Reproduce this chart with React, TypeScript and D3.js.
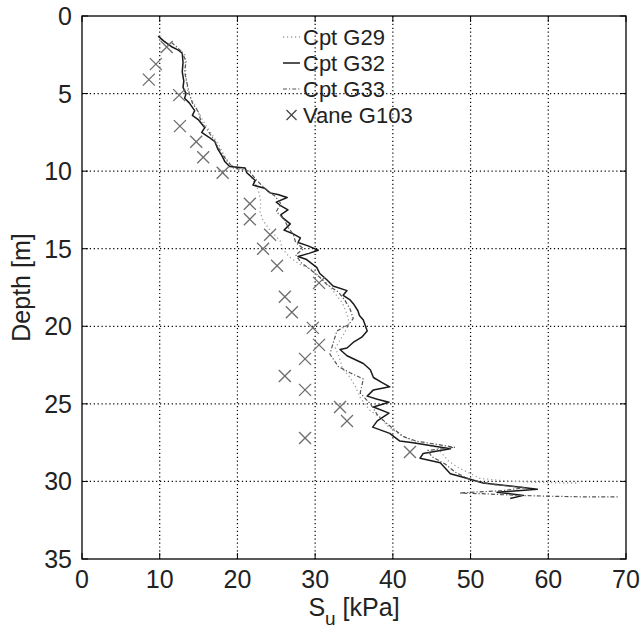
import React from "react";
import * as d3 from "d3";

// ---- Data ----
const xTicks = [0, 10, 20, 30, 40, 50, 60, 70];
const yTicks = [0, 5, 10, 15, 20, 25, 30, 35];

const legendLabels = ["Cpt G29", "Cpt G32", "Cpt G33", "Vane G103"];

// Cpt G29 (dotted) [Su kPa, depth m]
const cptG29: [number, number][] = [
  [10.2, 1.5], [11.0, 1.8], [12.0, 2.1], [13.2, 2.4], [13.3, 3.2], [13.4, 4.0], [13.6, 4.8],
  [14.0, 5.3], [14.8, 6.0], [15.4, 6.6], [16.0, 7.1], [16.8, 7.7], [17.6, 8.3], [18.2, 8.9],
  [18.8, 9.4], [19.5, 9.7], [21.0, 9.9], [21.8, 10.4], [22.4, 10.9], [22.8, 11.4], [23.0, 12.0],
  [22.9, 12.6], [23.3, 13.2], [24.2, 13.8], [25.5, 14.5], [25.8, 15.0], [26.6, 15.5], [28.0, 16.0],
  [29.4, 16.3], [30.8, 16.9], [31.8, 17.4], [32.6, 17.9], [33.5, 18.5], [34.1, 19.2], [34.4, 19.8],
  [33.8, 20.4], [33.2, 20.9], [32.6, 21.4], [33.1, 22.0], [33.5, 22.7], [34.5, 23.3], [35.2, 23.9],
  [35.8, 24.6], [37.0, 25.4], [38.4, 25.9], [39.5, 26.5], [41.0, 27.0], [43.0, 27.5], [45.7, 27.8],
  [46.5, 28.3], [47.2, 28.7], [48.4, 29.1], [50.0, 29.5], [51.2, 29.8], [54.0, 29.95], [58.0, 30.05],
  [62.0, 30.1], [64.0, 30.1],
];

// Cpt G32 (solid)
const cptG32: [number, number][] = [
  [9.8, 1.3], [10.5, 1.6], [11.6, 2.0], [12.4, 2.2], [12.9, 2.4], [13.0, 3.0], [12.9, 3.6],
  [13.1, 4.2], [13.0, 4.6], [13.4, 5.0], [13.2, 5.3], [13.8, 5.6], [14.5, 6.1], [14.2, 6.4],
  [15.0, 6.7], [15.8, 7.2], [15.4, 7.5], [16.3, 7.8], [17.1, 8.1], [17.5, 8.6], [18.0, 9.0],
  [18.4, 9.4], [19.0, 9.7], [20.0, 9.75], [21.0, 9.8], [21.2, 10.1], [22.3, 10.6], [22.0, 10.9],
  [23.5, 11.1], [24.2, 11.4], [25.2, 11.5], [26.4, 11.7], [25.0, 12.0], [25.5, 12.2], [26.5, 12.5],
  [25.6, 12.8], [25.8, 13.0], [26.8, 13.4], [26.0, 13.8], [27.0, 14.0], [28.1, 14.3], [27.8, 14.6],
  [29.0, 14.8], [30.4, 15.1], [29.2, 15.3], [27.8, 15.5], [28.9, 15.7], [30.2, 16.2], [30.6, 16.6],
  [31.5, 17.0], [32.3, 17.4], [34.1, 17.7], [33.6, 18.0], [34.5, 18.3], [35.0, 18.6], [35.5, 19.0],
  [35.7, 19.3], [36.2, 19.6], [36.7, 20.3], [36.0, 20.7], [35.0, 21.0], [34.1, 21.4], [33.2, 21.5],
  [34.1, 21.9], [36.2, 22.4], [37.1, 22.8], [37.5, 23.3], [38.5, 23.6], [39.6, 23.9], [37.5, 24.1],
  [36.7, 24.5], [38.0, 24.7], [39.5, 24.9], [37.5, 25.2], [39.5, 25.6], [38.0, 26.1], [37.4, 26.5],
  [39.6, 26.9], [40.9, 27.4], [42.6, 27.5], [47.4, 27.9], [43.9, 28.2], [43.5, 28.5], [46.1, 28.8],
  [47.4, 29.5], [49.5, 29.8], [51.6, 30.1], [55.1, 30.3], [58.6, 30.5], [53.4, 30.7], [56.8, 30.9],
  [55.1, 31.1],
];

// Cpt G33 (dash-dot)
const cptG33: [number, number][] = [
  [11.5, 1.7], [12.2, 2.0], [12.8, 2.3], [13.4, 2.9], [13.2, 3.6], [13.5, 4.3], [13.8, 5.0],
  [14.2, 5.6], [15.0, 6.2], [15.3, 6.8], [16.2, 7.4], [17.0, 8.0], [17.8, 8.7], [18.6, 9.3],
  [19.5, 9.8], [21.5, 10.0], [22.5, 10.6], [23.5, 11.1], [24.8, 11.6], [25.6, 12.1], [25.0, 12.6],
  [26.0, 13.1], [26.5, 13.6], [27.2, 14.1], [27.5, 14.6], [28.5, 15.0], [27.5, 15.4], [28.2, 15.9],
  [29.3, 16.3], [30.5, 16.8], [31.5, 17.3], [33.0, 17.8], [33.8, 18.3], [34.5, 18.9], [34.9, 19.5],
  [34.3, 19.9], [32.8, 20.3], [32.3, 21.1], [31.9, 21.8], [33.0, 22.6], [34.5, 23.0], [36.2, 23.4],
  [35.8, 24.3], [37.1, 25.0], [38.0, 25.7], [39.3, 26.3], [41.3, 27.1], [43.0, 27.4], [48.0, 27.8],
  [44.5, 28.0], [45.0, 28.4], [46.8, 28.9], [48.0, 29.4], [50.0, 29.9], [53.0, 30.2], [57.0, 30.4],
  [54.0, 30.6], [50.0, 30.7], [48.6, 30.75], [52.0, 30.8], [56.0, 30.9], [60.0, 30.95], [65.0, 31.0],
  [69.0, 31.0],
];

// Vane G103 (x markers)
const vaneSu = [10.9, 9.5, 8.6, 12.5, 12.6, 14.7, 15.6, 18.1, 21.6, 21.6, 24.2, 23.3, 25.1, 30.5, 26.1, 27.0, 29.7, 30.5, 28.7, 26.1, 28.7, 33.2, 34.1, 28.7, 42.2];
const vaneDepth = [2.0, 3.1, 4.1, 5.1, 7.1, 8.1, 9.1, 10.1, 12.1, 13.1, 14.1, 15.0, 16.1, 17.2, 18.1, 19.1, 20.1, 21.2, 22.1, 23.2, 24.1, 25.2, 26.1, 27.2, 28.1];

// ---- Layout ----
const W = 644;
const H = 636;
const L = 82, R = 626, T = 16, B = 559;
const FONT = "'Liberation Sans', Arial, sans-serif";

export default function App() {
  const x = d3.scaleLinear().domain([0, 70]).range([L, R]);
  const y = d3.scaleLinear().domain([0, 35]).range([T, B]);
  const line = d3.line<[number, number]>().x((d) => x(d[0])).y((d) => y(d[1]));

  const cross = (cx: number, cy: number, s: number, key: string, color: string) => (
    <g key={key} stroke={color} strokeWidth={1.3}>
      <line x1={cx - s} y1={cy - s} x2={cx + s} y2={cy + s} />
      <line x1={cx - s} y1={cy + s} x2={cx + s} y2={cy - s} />
    </g>
  );

  const styles = [
    { stroke: "#9a9a9a", dash: "1.2,2.8", width: 1.3 },
    { stroke: "#1a1a1a", dash: undefined as string | undefined, width: 1.5 },
    { stroke: "#555555", dash: "4,2,1.2,2", width: 1.2 },
  ];
  const series = [cptG29, cptG32, cptG33];

  const legX0 = 283, legX1 = 300, legTextX = 303;
  const legY = [37, 63, 89, 115];

  return (
    <svg width={W} height={H} style={{ position: "absolute", left: 0, top: 0, background: "#fff" }} fontFamily={FONT}>
      <rect x={0} y={0} width={W} height={H} fill="#fff" />
      {/* grid */}
      <g stroke="#000" strokeWidth={1.2} strokeDasharray="1.2,2.7">
        {xTicks.slice(1, -1).map((t) => (
          <line key={"gx" + t} x1={x(t)} x2={x(t)} y1={T} y2={B} />
        ))}
        {yTicks.slice(1, -1).map((t) => (
          <line key={"gy" + t} x1={L} x2={R} y1={y(t)} y2={y(t)} />
        ))}
      </g>
      {/* ticks */}
      <g stroke="#000" strokeWidth={1}>
        {xTicks.map((t) => (
          <g key={"tx" + t}>
            <line x1={x(t)} x2={x(t)} y1={B} y2={B - 6} />
            <line x1={x(t)} x2={x(t)} y1={T} y2={T + 6} />
          </g>
        ))}
        {yTicks.map((t) => (
          <g key={"ty" + t}>
            <line x1={L} x2={L + 6} y1={y(t)} y2={y(t)} />
            <line x1={R} x2={R - 6} y1={y(t)} y2={y(t)} />
          </g>
        ))}
      </g>
      {/* curves */}
      {series.map((s, i) => (
        <path
          key={"s" + i}
          d={line(s) || ""}
          fill="none"
          stroke={styles[i].stroke}
          strokeWidth={styles[i].width}
          strokeDasharray={styles[i].dash}
          strokeLinejoin="round"
        />
      ))}
      {/* vane */}
      {vaneSu.map((v, i) => cross(x(v), y(vaneDepth[i]), 6, "v" + i, "#6e6e6e"))}
      {/* frame */}
      <rect x={L} y={T} width={R - L} height={B - T} fill="none" stroke="#000" strokeWidth={1.3} />
      {/* tick labels */}
      <g fill="#222" fontSize={25}>
        {xTicks.map((t) => (
          <text key={"lx" + t} x={x(t)} y={B + 29} textAnchor="middle">{t}</text>
        ))}
        {yTicks.map((t) => (
          <text key={"ly" + t} x={L - 10} y={y(t) + 9} textAnchor="end">{t}</text>
        ))}
      </g>
      {/* axis labels */}
      <text x={(L + R) / 2} y={616} textAnchor="middle" fontSize={25} fill="#222">
        S<tspan fontSize={19} dy={9}>u</tspan><tspan dy={-9}> [kPa]</tspan>
      </text>
      <text transform={`translate(30,${(T + B) / 2}) rotate(-90)`} textAnchor="middle" fontSize={25} fill="#222">
        Depth [m]
      </text>
      {/* legend */}
      <g fontSize={22} fill="#222">
        {legendLabels.map((lab, i) => (
          <g key={"lg" + i}>
            {i < 3 ? (
              <line
                x1={legX0}
                x2={legX1}
                y1={legY[i]}
                y2={legY[i]}
                stroke={styles[i].stroke}
                strokeWidth={styles[i].width}
                strokeDasharray={styles[i].dash}
              />
            ) : (
              cross((legX0 + legX1) / 2, legY[i], 5, "lgx", "#444")
            )}
            <text x={legTextX} y={legY[i] + 8}>{lab}</text>
          </g>
        ))}
      </g>
    </svg>
  );
}
